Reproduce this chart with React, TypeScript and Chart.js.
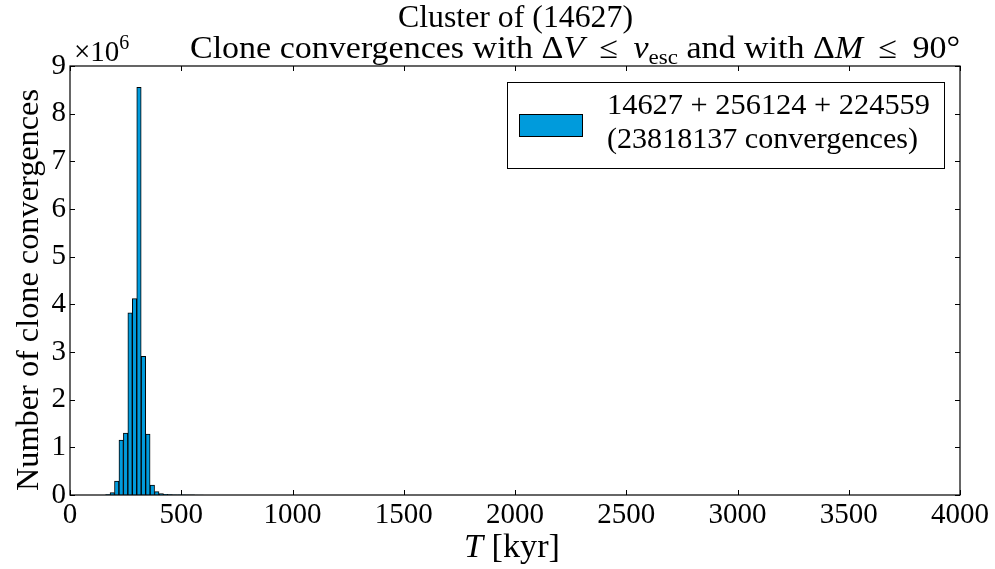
import React, { useEffect, useRef } from "react";
import { Chart, registerables } from "chart.js";

Chart.register(...registerables);

// Histogram of clone convergence times, 20 kyr bins (left edges, kyr)
const binStartsKyr = [160, 180, 200, 220, 240, 260, 280, 300, 320, 340, 360, 380, 400, 420, 440, 460, 480, 500, 520, 540, 560, 580];
const convergenceCounts = [10000, 50000, 290000, 1150000, 1300000, 3820000, 4120000, 8550000, 2910000, 1280000, 210000, 70000, 30000, 15000, 8000, 5000, 3000, 2000, 1500, 1000, 800, 500];
const BIN_WIDTH_KYR = 20;

const xTickValues = [0, 500, 1000, 1500, 2000, 2500, 3000, 3500, 4000];
const yTickMillions = [0, 1, 2, 3, 4, 5, 6, 7, 8, 9];

const titleText = "Cluster of (14627)";
const legendLines = ["14627 + 256124 + 224559", "(23818137 convergences)"];
const yAxisLabel = "Number of clone convergences";

const BAR_COLOR = "#009bdc";
const FONT = '"Liberation Serif", "DejaVu Serif", serif';

type Seg = { t: string; it?: boolean; sub?: boolean; sup?: boolean };

function font(size: number, italic = false) {
  return `${italic ? "italic " : ""}${size}px ${FONT}`;
}

function segFont(s: Seg, size: number) {
  const sz = s.sub || s.sup ? Math.round(size * 0.68) : size;
  return font(sz, !!s.it);
}

function richWidth(ctx: CanvasRenderingContext2D, segs: Seg[], size: number) {
  let w = 0;
  for (const s of segs) {
    ctx.font = segFont(s, size);
    w += ctx.measureText(s.t).width;
  }
  return w;
}

// Draws a run of mixed-style text starting at x (or centred on x);
// when width is given the run is stretched horizontally to that width.
function drawRich(
  ctx: CanvasRenderingContext2D,
  segs: Seg[],
  x: number,
  y: number,
  size: number,
  align: "left" | "center",
  width?: number
) {
  const natural = richWidth(ctx, segs, size);
  const sx = width ? width / natural : 1;
  const total = natural * sx;
  const left = align === "center" ? x - total / 2 : x;
  ctx.save();
  ctx.translate(left, y);
  ctx.scale(sx, 1);
  ctx.textAlign = "left";
  ctx.textBaseline = "alphabetic";
  let cx = 0;
  for (const s of segs) {
    ctx.font = segFont(s, size);
    const dy = s.sub ? size * 0.2 : s.sup ? -size * 0.4 : 0;
    ctx.fillText(s.t, cx, dy);
    cx += ctx.measureText(s.t).width;
  }
  ctx.restore();
}

const subtitleSegs: Seg[] = [
  { t: "Clone convergences with " },
  { t: "Δ" },
  { t: "V", it: true },
  { t: " \u2009≤\u2009 " },
  { t: "v", it: true },
  { t: "esc", sub: true },
  { t: " and with " },
  { t: "Δ" },
  { t: "M", it: true },
  { t: " \u2009≤\u2009 90°" },
];

const decorPlugin = {
  id: "decor",
  afterDatasetsDraw(chart: any) {
    const { ctx, chartArea: a, scales } = chart;
    const xs = scales.x;
    const ys = scales.y;
    ctx.save();
    ctx.fillStyle = "#000";
    ctx.strokeStyle = "#000";

    // frame
    ctx.lineWidth = 1.2;
    ctx.strokeRect(a.left, a.top, a.right - a.left, a.bottom - a.top);

    // inward ticks on all four sides
    const tl = 5;
    ctx.lineWidth = 1;
    ctx.beginPath();
    for (const v of xTickValues) {
      const px = Math.round(xs.getPixelForValue(v)) + 0.5;
      ctx.moveTo(px, a.bottom);
      ctx.lineTo(px, a.bottom - tl);
      ctx.moveTo(px, a.top);
      ctx.lineTo(px, a.top + tl);
    }
    for (const m of yTickMillions) {
      const py = Math.round(ys.getPixelForValue(m * 1e6)) + 0.5;
      ctx.moveTo(a.left, py);
      ctx.lineTo(a.left + tl, py);
      ctx.moveTo(a.right, py);
      ctx.lineTo(a.right - tl, py);
    }
    ctx.stroke();

    // titles
    drawRich(ctx, [{ t: titleText }], 515.5, 27, 31, "center", 235);
    drawRich(ctx, subtitleSegs, 190, 58, 31, "left", 770);

    // axis offset label
    drawRich(ctx, [{ t: "×10" }, { t: "6", sup: true }], a.left + 4, 61, 29, "left");

    // x axis label
    drawRich(ctx, [{ t: "T", it: true }, { t: " [kyr]" }], 512, 557, 33, "center", 96);

    // y axis label
    ctx.save();
    ctx.translate(38, 290);
    ctx.rotate(-Math.PI / 2);
    drawRich(ctx, [{ t: yAxisLabel }], 0, 0, 32, "center", 402);
    ctx.restore();

    // legend
    const lx = 507, ly = 82, lw = 437, lh = 86;
    ctx.fillStyle = "#fff";
    ctx.fillRect(lx, ly, lw, lh);
    ctx.lineWidth = 1;
    ctx.strokeStyle = "#000";
    ctx.strokeRect(lx + 0.5, ly + 0.5, lw, lh);
    ctx.fillStyle = BAR_COLOR;
    ctx.fillRect(519, 114, 63, 22);
    ctx.strokeRect(519.5, 114.5, 63, 22);
    ctx.fillStyle = "#000";
    drawRich(ctx, [{ t: legendLines[0] }], 607, 114, 30, "left", 323);
    drawRich(ctx, [{ t: legendLines[1] }], 607, 148, 30, "left", 311);

    ctx.restore();
  },
};

export default function App() {
  const canvasRef = useRef<HTMLCanvasElement | null>(null);

  useEffect(() => {
    const canvas = canvasRef.current;
    if (!canvas) return;
    const data = binStartsKyr.map((b, i) => ({ x: b + BIN_WIDTH_KYR / 2, y: convergenceCounts[i] }));
    const chart = new Chart(canvas, {
      type: "bar",
      data: {
        datasets: [
          {
            data,
            backgroundColor: BAR_COLOR,
            borderColor: "#000",
            borderWidth: 1,
            barPercentage: 1,
            categoryPercentage: 1,
          } as any,
        ],
      },
      options: {
        animation: false,
        responsive: true,
        maintainAspectRatio: false,
        layout: { padding: { top: 66, right: 35, left: 0, bottom: 0 } },
        plugins: { legend: { display: false }, tooltip: { enabled: false }, title: { display: false } },
        scales: {
          x: {
            type: "linear",
            min: 0,
            max: 4000,
            offset: false,
            grid: { display: false, drawTicks: false },
            border: { display: false },
            afterFit: (s: any) => {
              s.height = 74;
            },
            afterBuildTicks: (s: any) => {
              s.ticks = xTickValues.map((v) => ({ value: v }));
            },
            ticks: {
              padding: 3,
              maxRotation: 0,
              autoSkip: false,
              color: "#000",
              font: { family: FONT, size: 29 },
              callback: (v: any) => String(v),
            },
          },
          y: {
            type: "linear",
            min: 0,
            max: 9e6,
            grid: { display: false, drawTicks: false },
            border: { display: false },
            afterFit: (s: any) => {
              s.width = 70;
            },
            afterBuildTicks: (s: any) => {
              s.ticks = yTickMillions.map((m) => ({ value: m * 1e6 }));
            },
            ticks: {
              padding: 4,
              autoSkip: false,
              color: "#000",
              font: { family: FONT, size: 29 },
              callback: (v: any) => String(Math.round(Number(v) / 1e6)),
            },
          },
        },
      },
      plugins: [decorPlugin],
    });
    return () => chart.destroy();
  }, []);

  return (
    <div style={{ position: "fixed", left: 0, top: 0, width: 995, height: 569, background: "#fff" }}>
      <canvas ref={canvasRef} />
    </div>
  );
}
